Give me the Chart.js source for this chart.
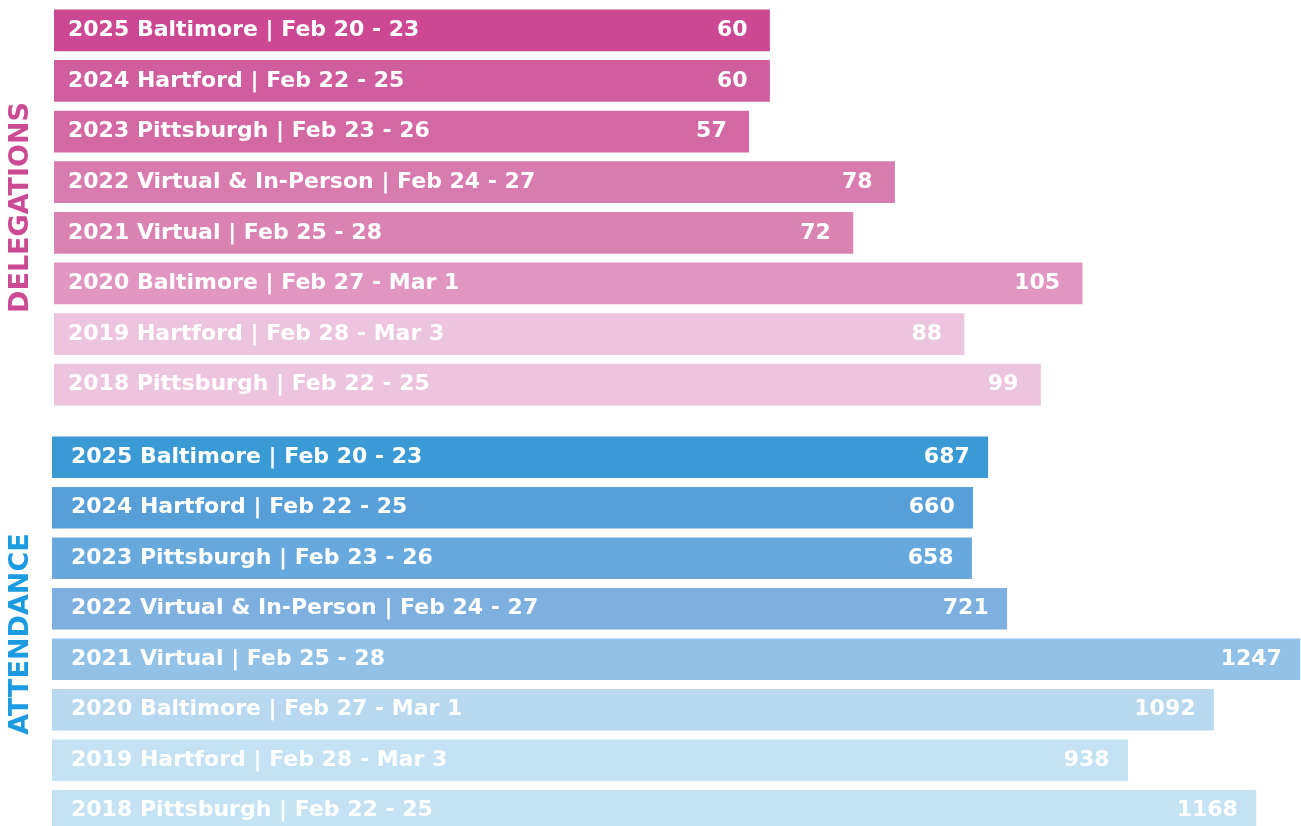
<!DOCTYPE html>
<html>
<head>
<meta charset="utf-8">
<script src="https://cdn.jsdelivr.net/npm/chart.js@4.4.1/dist/chart.umd.min.js"></script>
<style>
  html, body { margin: 0; padding: 0; background: #ffffff; width: 1301px; height: 826px; overflow: hidden; }
  .box { position: absolute; left: 0; width: 1301px; }
  #boxDel { top: 5px; height: 405px; }
  #boxAtt { top: 432px; height: 404px; }
</style>
</head>
<body>
<div class="box" id="boxDel"><canvas id="del"></canvas></div>
<div class="box" id="boxAtt"><canvas id="att"></canvas></div>
<script>
const categories = [
  '2025 Baltimore | Feb 20 - 23',
  '2024 Hartford | Feb 22 - 25',
  '2023 Pittsburgh | Feb 23 - 26',
  '2022 Virtual & In-Person | Feb 24 - 27',
  '2021 Virtual | Feb 25 - 28',
  '2020 Baltimore | Feb 27 - Mar 1',
  '2019 Hartford | Feb 28 - Mar 3',
  '2018 Pittsburgh | Feb 22 - 25'
];
const delegations = [60, 60, 57, 78, 72, 105, 88, 99];
const attendance = [687, 660, 658, 721, 1247, 1092, 938, 1168];

const delegationColors = ['#cc4892', '#d05d9e', '#d468a3', '#d87bae', '#da83b2', '#e096c0', '#edc4dd', '#edc4dd'];
const attendanceColors = ['#3a9ad6', '#579fd8', '#67a9dc', '#7eb0df', '#91c1e6', '#b8d8f0', '#c5e2f4', '#c5e2f4'];

const FONT = '"DejaVu Sans", "Noto Sans", sans-serif';

const valueLabels = {
  id: 'valueLabels',
  afterDatasetsDraw(chart, args, opts) {
    const ctx = chart.ctx;
    const meta = chart.getDatasetMeta(0);
    const data = chart.data.datasets[0].data;
    ctx.save();
    ctx.fillStyle = '#ffffff';
    ctx.font = 'bold 22px ' + FONT;
    ctx.textAlign = 'right';
    ctx.textBaseline = 'middle';
    meta.data.forEach((bar, i) => {
      ctx.fillText(String(data[i]), bar.x - opts.pad, bar.y);
    });
    ctx.restore();
  }
};

function makeChart(id, values, colors, title, titleColor, cfg) {
  return new Chart(document.getElementById(id), {
    type: 'bar',
    data: {
      labels: categories,
      datasets: [{
        data: values,
        backgroundColor: colors,
        borderWidth: 0,
        barThickness: 41,
        base: cfg.min
      }]
    },
    plugins: [valueLabels],
    options: {
      indexAxis: 'y',
      responsive: true,
      maintainAspectRatio: false,
      animation: false,
      layout: { padding: 0 },
      plugins: {
        legend: { display: false },
        tooltip: { enabled: false },
        valueLabels: { pad: cfg.pad }
      },
      scales: {
        x: {
          display: false,
          min: cfg.min,
          max: cfg.max
        },
        y: {
          afterFit: s => {
            s.width = cfg.axisWidth;
            s.paddingTop = 0; s.paddingBottom = 0;
            s.paddingLeft = 0; s.paddingRight = 0;
          },
          grid: { display: false, drawTicks: false },
          border: { display: false },
          ticks: {
            mirror: true,
            padding: cfg.tickPad,
            z: 1,
            color: '#ffffff',
            font: { family: FONT, size: 22, weight: 'bold' }
          },
          title: {
            display: true,
            text: title,
            color: titleColor,
            font: { family: FONT, size: 27, weight: 'bold' },
            padding: { top: 5, bottom: 0 }
          }
        }
      }
    }
  });
}

makeChart('del', delegations, delegationColors, 'DELEGATIONS', '#cc4a93',
  { min: -43, max: 136.5, axisWidth: 54, tickPad: 14, pad: 22 });
makeChart('att', attendance, attendanceColors, 'ATTENDANCE', '#1d9be2',
  { min: -992, max: 1249, axisWidth: 52, tickPad: 19, pad: 18 });
</script>
</body>
</html>
